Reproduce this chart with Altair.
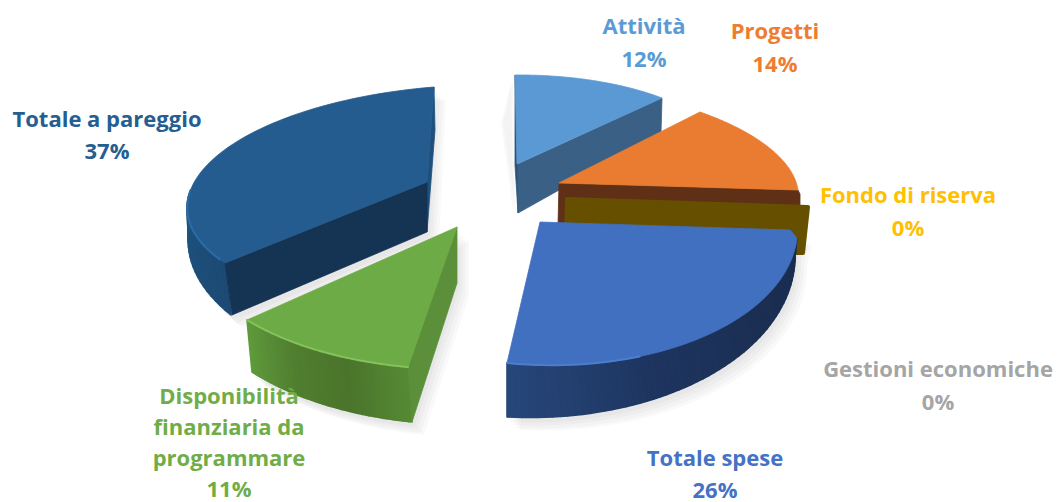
import math
import numpy as np
import altair as alt

# ---- data ----
names = ["Attività", "Progetti", "Fondo di riserva", "Gestioni economiche",
         "Totale spese", "Disponibilità finanziaria da programmare", "Totale a pareggio"]
shares = [12, 14, 0, 0, 26, 11, 37]
label_lines = [["Attività"], ["Progetti"], ["Fondo di riserva"], ["Gestioni economiche"],
               ["Totale spese"], ["Disponibilità", "finanziaria da", "programmare"], ["Totale a pareggio"]]
text_colors = ["#5b9bd5", "#ed7d31", "#ffc000", "#a5a5a5", "#4472c4", "#70ad47", "#255e91"]

# ---- layout: label anchors (centre x, first-line y, line step), page pixels ----
label_anchor = [(644, 27, 33), (775, 32, 33), (908, 196, 33), (938, 370, 33),
                (715, 459, 31.5), (229, 397, 31.1), (107, 120, 32)]
FONT = "Open Sans"
FONT_SIZE = 22
M = 8  # page margin

share = dict(zip(names, shares))


def arc(c, a, b, pct, wv=1.0, n=60):
    """Perspective view of a circle arc swept by a share of the pie."""
    phi = pct / 100 * 2 * math.pi
    c, u, v = np.array(c, float), np.array(a, float) - c, np.array(b, float) - c
    pts = []
    for t in np.linspace(0, phi, n):
        x, y = math.sin(phi - t) / math.sin(phi), math.sin(t) / math.sin(phi)
        pts.append(c + (x * u + y * wv * v) / (1 + y * (wv - 1)))
    return np.array(pts)


def mix(stops, f):
    f = f * (len(stops) - 1)
    i = min(int(f), len(stops) - 2)
    f -= i
    ca = [int(stops[i][k:k + 2], 16) for k in (1, 3, 5)]
    cb = [int(stops[i + 1][k:k + 2], 16) for k in (1, 3, 5)]
    return "#%02x%02x%02x" % tuple(round(p + (q - p) * f) for p, q in zip(ca, cb))


features, lines = [], []


def poly(pts, fill, opacity=1.0, sw=0.8, stroke=None):
    ring = [[float(x) - M, float(y) - M] for x, y in pts]
    ring.append(ring[0])
    features.append({"type": "Feature",
                     "geometry": {"type": "Polygon", "coordinates": [ring]},
                     "properties": {"fill": fill, "stroke": stroke or fill, "opacity": opacity, "sw": sw}})


def strips(top, bot, stops):
    n = len(top) - 1
    for i in range(n):
        poly([top[i], top[i + 1], bot[i + 1], bot[i]], mix(stops, i / max(n - 1, 1)), 1.0, 1.6)


def shadow(pts, off=((3, 5), (6, 8), (9, 11), (12, 13))):
    for dx, dy in off:
        poly([(x + dx, y + dy) for x, y in pts], "#000000", 0.022, 0, "#000000")


# -- geometry of each slice (apex, rim ends), sweep taken from its share --
par_top = arc((427, 182), (225, 263), (434, 87), share["Totale a pareggio"], wv=1.15)
par_left = par_top[:19]
par_low = np.array([p + np.array([6 - 6 * i / 18, 52 - 18 * i / 18]) for i, p in enumerate(par_left)])

att_top = arc((517, 164), (515, 75), (662, 98), share["Attività"])
pro_top = arc((559, 183), (700, 112), (798, 190), share["Progetti"])

spe_top = arc((540, 222), (797, 238), (507, 363), share["Totale spese"])
spe_low = arc((520, 250), (795, 253), (507, 417), share["Totale spese"])

dis_key = "Disponibilità finanziaria da programmare"
dis_top = arc((457, 227), (247, 320), (408, 367), share[dis_key])
dis_low = arc((460, 280), (252, 372), (412, 422), share[dis_key])

# soft shadows first
shadow([(434, 87), (427, 232), (232, 315)] + [tuple(p) for p in par_low[::-1]] + [tuple(p) for p in par_top[18:]])
shadow([(518, 213), (515, 75), (505, 118)], off=((-2, 4), (-4, 6)))
shadow([(457, 227), (457, 283), (412, 422)] + [tuple(p) for p in dis_low[::-1]])
shadow([(540, 222), (800, 232)] + [tuple(p) for p in spe_low])

# Totale a pareggio
poly([(434, 87), (435, 130), (427, 232), (427, 182)], "#1f4f7c")
strips(par_left, par_low, ["#1c4a75", "#20537f"])
poly([(225, 263), (427, 182), (427, 232), (232, 315)], "#153454")
poly([(427, 182)] + [tuple(p) for p in par_top], "#255c8f")
lines.append([[float(x) - M, float(y) - M] for x, y in par_top[1:20]])
line_cols = ["#2a6ca8"]

# Attività
poly([(515, 75), (518, 164), (518, 213), (515, 165)], "#2f5374")
poly([(518, 164), (662, 98), (661, 133), (518, 213)], "#3a6085")
poly([(517, 164)] + [tuple(p) for p in att_top], "#5b99d4")

# Progetti
poly([(559, 183), (798, 190), (800, 194), (800, 215), (558, 225)], "#5f3015")
poly([(559, 183)] + [tuple(p) for p in pro_top], "#e97c30")

# Fondo di riserva (a 0% slice: only its cut face shows)
poly([(567, 199), (808, 207), (803, 253), (790, 253), (566, 240)], "#665000", 1, 4)

# Disponibilità
strips(dis_top, dis_low, ["#5f9a3c", "#517f30", "#4b742c", "#558a34"])
poly([(457, 227), (408, 367), (412, 422), (457, 283)], "#5b8f39")
poly([(457, 227)] + [tuple(p) for p in dis_top], "#6dab46")
lines.append([[float(x) - M, float(y) - M] for x, y in dis_top])
line_cols.append("#85c25c")

# Totale spese
strips(spe_top, spe_low, ["#1a2d50", "#1b2f52", "#1e3560", "#264779"])
poly([(540, 222), (790, 230)] + [tuple(p) for p in spe_top], "#4170c0")
lines.append([[float(x) - M, float(y) - M] for x, y in spe_top[40:]])
line_cols.append("#4d7dcc")

line_features = [{"type": "Feature", "geometry": {"type": "LineString", "coordinates": l},
                  "properties": {"stroke": c}} for l, c in zip(lines, line_cols)]


def geo_data(fs):
    return alt.InlineData(values={"type": "FeatureCollection", "features": fs},
                          format=alt.DataFormat(property="features", type="json"))


faces = alt.Chart(geo_data(features)).mark_geoshape(strokeJoin="round").encode(
    fill=alt.Fill("properties.fill:N", scale=None),
    stroke=alt.Stroke("properties.stroke:N", scale=None),
    opacity=alt.Opacity("properties.opacity:Q", scale=None),
    strokeWidth=alt.StrokeWidth("properties.sw:Q", scale=None),
).project(type="identity", scale=1, translate=[0, 0])

rims = alt.Chart(geo_data(line_features)).mark_geoshape(filled=False, strokeWidth=2, strokeCap="round").encode(
    stroke=alt.Stroke("properties.stroke:N", scale=None),
).project(type="identity", scale=1, translate=[0, 0])

rows = []
for ls, pct, col, (cx, y0, step) in zip(label_lines, shares, text_colors, label_anchor):
    for i, t in enumerate(ls + [f"{pct}%"]):
        rows.append({"t": t, "c": col, "px": cx - M, "py": y0 + i * step - M})

texts = alt.Chart(alt.Data(values=rows)).mark_text(
    font=FONT, fontSize=FONT_SIZE, fontWeight="bold", align="center", baseline="middle"
).encode(
    x=alt.X("px:Q", scale=None, axis=None),
    y=alt.Y("py:Q", scale=None, axis=None),
    text="t:N",
    color=alt.Color("c:N", scale=None),
)

chart = alt.layer(faces, rims, texts).properties(
    width=1046, height=494, padding=0, autosize="none"
).configure_view(stroke=None)

chart.save("out.html", embed_options={"renderer": "svg", "actions": False})
